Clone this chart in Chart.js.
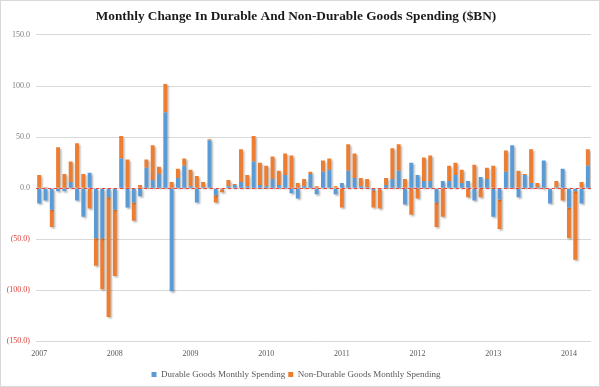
<!DOCTYPE html>
<html>
<head>
<meta charset="utf-8">
<script src="https://cdn.jsdelivr.net/npm/chart.js@4.4.0/dist/chart.umd.min.js"></script>
<style>
  html, body { margin:0; padding:0; background:#fff; }
  #wrap { position:relative; width:598px; height:385px; border:1px solid #d9d9d9; }
</style>
</head>
<body>
<div id="wrap"><canvas id="c" width="598" height="385"></canvas></div>
<script>
// monthly changes, $BN, Jan 2007 .. Apr 2014
const years = ['2007','2008','2009','2010','2011','2012','2013','2014'];
const monthNames = ['Jan','Feb','Mar','Apr','May','Jun','Jul','Aug','Sep','Oct','Nov','Dec'];

const durable = [
  -15,-12,-21,-3,-3,6,-12,-28,15,-49,-49,-9,
  -21,29,-19,-14,-8,20,8,14,74,-101,10,22,
  2,-14,1,47,-7,-1,2,3,6,2,26,3,
  2,9,3,13,-5,-10,2,14,-6,16,18,-6,
  5,17,10,2,1,-2,-1,3,9,17,-16,25,
  13,7,7,-14,7,7,13,5,7,-12,11,9,
  -28,-11,16,42,-9,13,5,1,27,-15,1,19,
  -19,-3,-15,22
];
const nonDurable = [
  13,1,-17,40,14,20,44,14,-20,-27,-50,-117,
  -65,22,28,-18,3,8,34,7,28,6,9,7,
  16,12,5,1,-7,-3,6,1,32,11,25,22,
  20,22,14,21,32,5,7,2,2,11,11,2,
  -19,26,24,8,8,-17,-19,7,30,26,9,-26,
  -10,23,25,-24,-28,15,12,13,-9,23,-9,11,
  22,-29,21,0,17,1,33,4,-1,0,6,-12,
  -30,-67,6,16
];
const yTicks = [150, 100, 50, 0, -50, -100, -150];

const labels = [];
years.forEach(y => monthNames.forEach(m => labels.push(m + ' ' + y)));
labels.length = durable.length;

const serif = "'Liberation Serif', 'DejaVu Serif', serif";

// soft drop shadow on the bars, like the Excel original
const shadow = {
  id:'shadow',
  beforeDatasetsDraw(chart){ const c = chart.ctx; c.save(); c.shadowColor='rgba(0,0,0,0.28)'; c.shadowBlur=2; c.shadowOffsetX=1.5; c.shadowOffsetY=1.5; },
  afterDatasetsDraw(chart){ chart.ctx.restore(); }
};
// red dashed zero line
const zeroLine = {
  id:'zeroLine',
  afterDatasetsDraw(chart){
    const { ctx, chartArea:a, scales:{ y } } = chart;
    const py = Math.round(y.getPixelForValue(0)) + 0.5;
    ctx.save();
    ctx.strokeStyle = '#e8463a'; ctx.lineWidth = 1; ctx.setLineDash([3,3]);
    ctx.beginPath(); ctx.moveTo(a.left, py); ctx.lineTo(a.right, py); ctx.stroke();
    ctx.restore();
  }
};

new Chart(document.getElementById('c'), {
  type:'bar',
  data:{
    labels,
    datasets:[
      { label:'Durable Goods Monthly Spending', data:durable, backgroundColor:'#5b9bd5', barPercentage:0.62, categoryPercentage:1 },
      { label:'Non-Durable Goods Monthly Spending', data:nonDurable, backgroundColor:'#ed7d31', barPercentage:0.62, categoryPercentage:1 }
    ]
  },
  options:{
    responsive:false, animation:false,
    layout:{ padding:{ left:0, right:8, top:0, bottom:-3 } },
    plugins:{
      title:{ display:true, text:'Monthly Change In Durable And Non-Durable Goods Spending ($BN)',
        color:'#1a1a1a', font:{ family:serif, size:13.3, weight:'bold' }, padding:{ top:8, bottom:10 } },
      legend:{ position:'bottom',
        labels:{ color:'#595959', font:{ family:serif, size:9 }, boxWidth:5, boxHeight:5, padding:3 } },
      tooltip:{ enabled:false }
    },
    scales:{
      x:{ stacked:true,
        grid:{ display:false, drawTicks:false }, border:{ display:false },
        ticks:{ autoSkip:false, maxRotation:0, color:'#595959', font:{ family:serif, size:8 }, padding:8,
          callback:(v, i) => i % 12 === 0 ? years[i / 12] : '' } },
      y:{ stacked:true, min:-150, max:150,
        afterBuildTicks:(s) => { s.ticks = yTicks.map(v => ({ value:v })); },
        afterFit:(s) => { s.width = 35; },
        grid:{ color:'#d9d9d9', drawTicks:false }, border:{ display:false },
        ticks:{ padding:6, font:{ family:serif, size:8 },
          color:(ctx) => ctx.tick.value < 0 ? '#e0403a' : '#7f7f7f',
          callback:(v) => v < 0 ? '(' + Math.abs(v).toFixed(1) + ')' : v.toFixed(1) } }
    }
  },
  plugins:[shadow, zeroLine]
});
</script>
</body>
</html>
